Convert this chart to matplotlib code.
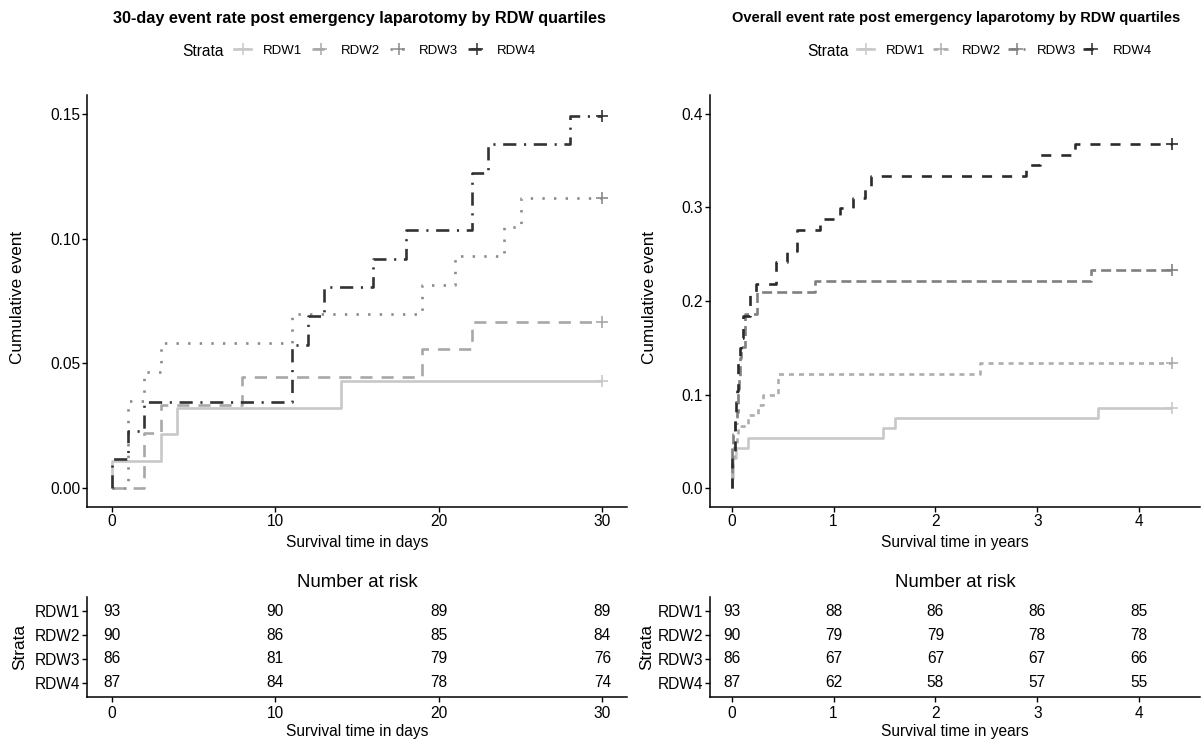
import matplotlib
matplotlib.use("Agg")
import matplotlib.pyplot as plt
from matplotlib import font_manager
from matplotlib.lines import Line2D

# ---------------- data ----------------
strata = ["RDW1", "RDW2", "RDW3", "RDW4"]

# 30-day cumulative event (days)
d_rdw1_t = [0, 0, 3, 4, 14, 30]
d_rdw1_v = [0, 0.0108, 0.0215, 0.0323, 0.0430, 0.0430]
d_rdw2_t = [0, 2, 3, 8, 19, 22, 30]
d_rdw2_v = [0, 0.0222, 0.0333, 0.0444, 0.0556, 0.0667, 0.0667]
d_rdw3_t = [0, 1, 2, 3, 11, 19, 21, 24, 25, 30]
d_rdw3_v = [0, 0.0349, 0.0465, 0.0581, 0.0698, 0.0814, 0.0930, 0.1047, 0.1163, 0.1163]
d_rdw4_t = [0, 0, 1, 2, 11, 12, 13, 16, 18, 22, 23, 28, 30]
d_rdw4_v = [0, 0.0115, 0.0230, 0.0345, 0.0575, 0.0690, 0.0805, 0.0920, 0.1034,
            0.1264, 0.1379, 0.1494, 0.1494]

# overall cumulative event (years)
y_rdw1_t = [0, 0, 0.008, 0.011, 0.038, 0.16, 1.49, 1.60, 3.60, 4.32]
y_rdw1_v = [0, 0.0108, 0.0215, 0.0323, 0.0430, 0.0538, 0.0645, 0.0753, 0.0860, 0.0860]
y_rdw2_t = [0, 0.005, 0.008, 0.022, 0.052, 0.060, 0.16, 0.26, 0.31, 0.45, 2.44, 4.32]
y_rdw2_v = [0, 0.0222, 0.0333, 0.0444, 0.0556, 0.0667, 0.0778, 0.0889, 0.1000,
            0.1222, 0.1333, 0.1333]
y_rdw3_t = [0, 0.003, 0.005, 0.008, 0.030, 0.052, 0.057, 0.066, 0.068, 0.080,
            0.085, 0.090, 0.130, 0.245, 0.82, 3.53, 4.32]
y_rdw3_v = [0, 0.0349, 0.0465, 0.0581, 0.0698, 0.0814, 0.0930, 0.1047, 0.1163, 0.1279,
            0.1395, 0.1512, 0.1860, 0.2093, 0.2209, 0.2326, 0.2326]
y_rdw4_t = [0, 0, 0.003, 0.005, 0.030, 0.033, 0.036, 0.044, 0.049, 0.060, 0.063, 0.077,
            0.090, 0.110, 0.180, 0.235, 0.435, 0.54, 0.64, 0.867, 1.06, 1.19, 1.31, 1.37,
            2.89, 3.03, 3.37, 4.32]
y_rdw4_v = [0, 0.0115, 0.0230, 0.0345, 0.0575, 0.0690, 0.0805, 0.0920, 0.1034, 0.1264,
            0.1379, 0.1494, 0.1609, 0.1839, 0.2069, 0.2184, 0.2414, 0.2529, 0.2759, 0.2874,
            0.2989, 0.3103, 0.3218, 0.3333, 0.3448, 0.3563, 0.3678, 0.3678]

# number at risk
risk_days_x = [0, 10, 20, 30]
risk_days = {"RDW1": [93, 90, 89, 89], "RDW2": [90, 86, 85, 84],
             "RDW3": [86, 81, 79, 76], "RDW4": [87, 84, 78, 74]}
risk_years_x = [0, 1, 2, 3, 4]
risk_years = {"RDW1": [93, 88, 86, 86, 85], "RDW2": [90, 79, 79, 78, 78],
              "RDW3": [86, 67, 67, 67, 66], "RDW4": [87, 62, 58, 57, 55]}

title_left = "30-day event rate post emergency laparotomy by RDW quartiles"
title_right = "Overall event rate post emergency laparotomy by RDW quartiles"

# ---------------- fonts ----------------
names = {f.name for f in font_manager.fontManager.ttflist}
if "Liberation Sans Narrow" in names:
    NF = ["Liberation Sans Narrow", "DejaVu Sans"]
    k = 1.0
else:
    NF = ["Liberation Sans", "DejaVu Sans"]
    k = 0.86
RF = ["Liberation Sans", "DejaVu Sans"]
plt.rcParams["font.family"] = NF

FS = 13 * k
W, H = 1204, 742
fig = plt.figure(figsize=(W / 100, H / 100), dpi=100)

def fx(px):
    return px / W

def fy(py):
    return 1 - py / H

lw = 1.9
left_styles = {
    "RDW1": dict(color="#C8C8C8", ls="-"),
    "RDW2": dict(color="#A8A8A8", ls=(0, (4.6, 3.4))),
    "RDW3": dict(color="#8A8A8A", ls=(0, (0.9, 3.5))),
    "RDW4": dict(color="#333333", ls=(0, (5.0, 2.9, 0.8, 2.9))),
}
right_styles = {
    "RDW1": dict(color="#C8C8C8", ls="-"),
    "RDW2": dict(color="#ADADAD", ls=(0, (1.9, 1.9))),
    "RDW3": dict(color="#808080", ls=(0, (3.8, 1.9))),
    "RDW4": dict(color="#2B2B2B", ls=(0, (3.8, 3.8))),
}

def style_axes(ax):
    for s in ["top", "right"]:
        ax.spines[s].set_visible(False)
    for s in ["left", "bottom"]:
        ax.spines[s].set_linewidth(1.1)
    ax.tick_params(direction="out", length=3.5, width=1.0, labelsize=FS, colors="black", pad=1.5)

def main_panel(rect, series, styles, xlim, ylim, xticks, yticks, yfmt, xlabel):
    ax = fig.add_axes(rect)
    for name, (t, v) in zip(strata, series):
        st = styles[name]
        ax.step(t, v, where="post", color=st["color"], linestyle=st["ls"], lw=lw,
                solid_capstyle="butt", dash_capstyle="butt")
        ax.plot([t[-1]], [v[-1]], marker="+", ms=9, mew=1.2, color=st["color"], ls="none")
    ax.set_xlim(*xlim)
    ax.set_ylim(*ylim)
    ax.set_xticks(xticks)
    ax.set_yticks(yticks)
    ax.set_yticklabels([yfmt.format(y) for y in yticks])
    style_axes(ax)
    ax.set_xlabel(xlabel, fontsize=FS, labelpad=4)
    return ax

def table_panel(rect, xs, risk, xlim, xlabel):
    ax = fig.add_axes(rect)
    for i, name in enumerate(strata):
        for x, n in zip(xs, risk[name]):
            ax.text(x, i + 1, str(n), ha="center", va="center", fontsize=FS)
    ax.set_xlim(*xlim)
    ax.set_ylim(4.6, 0.4)
    ax.set_xticks(xs)
    ax.set_yticks([1, 2, 3, 4])
    ax.set_yticklabels(strata)
    style_axes(ax)
    ax.tick_params(axis="x", pad=3)
    ax.set_xlabel(xlabel, fontsize=FS, labelpad=2)
    ax.set_title("Number at risk", fontsize=FS * 1.2, pad=7)
    return ax

left_series = [(d_rdw1_t, d_rdw1_v), (d_rdw2_t, d_rdw2_v), (d_rdw3_t, d_rdw3_v), (d_rdw4_t, d_rdw4_v)]
right_series = [(y_rdw1_t, y_rdw1_v), (y_rdw2_t, y_rdw2_v), (y_rdw3_t, y_rdw3_v), (y_rdw4_t, y_rdw4_v)]

L = [fx(87), fy(507), fx(627) - fx(87), fy(95) - fy(507)]
R = [fx(710), fy(507), fx(1200) - fx(710), fy(95) - fy(507)]
LT = [fx(87), fy(697), fx(627) - fx(87), fy(597) - fy(697)]
RT = [fx(710), fy(697), fx(1200) - fx(710), fy(597) - fy(697)]

main_panel(L, left_series, left_styles, (-1.5, 31.5), (-0.0076, 0.1577),
           [0, 10, 20, 30], [0, 0.05, 0.10, 0.15], "{:.2f}", "Survival time in days")
main_panel(R, right_series, right_styles, (-0.213, 4.597), (-0.02, 0.42),
           [0, 1, 2, 3, 4], [0, 0.1, 0.2, 0.3, 0.4], "{:.1f}", "Survival time in years")
table_panel(LT, risk_days_x, risk_days, (-1.5, 31.5), "Survival time in days")
table_panel(RT, risk_years_x, risk_years, (-0.213, 4.597), "Survival time in years")

# y labels (rotated)
for xpx, ypx, txt in [(18, 297, "Cumulative event"), (650, 297, "Cumulative event"),
                      (20, 647, "Strata"), (647, 647, "Strata")]:
    fig.text(fx(xpx), fy(ypx), txt, rotation=90, ha="center", va="center",
             fontsize=FS * 1.1, family=RF)

# titles
fig.text(fx(359), fy(18), title_left, ha="center", va="center", fontsize=FS * 1.045, fontweight="bold")
fig.text(fx(956), fy(18), title_right, ha="center", va="center", fontsize=FS * 0.94, fontweight="bold")

# legends
def legend_at(x_strata, x_leg, styles, colsp):
    fig.text(fx(x_strata), fy(51), "Strata", ha="left", va="center", fontsize=FS)
    handles = [Line2D([0], [0], color=styles[n]["color"], linestyle=styles[n]["ls"], lw=lw,
                      marker="+", ms=8, mew=1.1) for n in strata]
    fig.legend(handles, strata, loc="center left", bbox_to_anchor=(fx(x_leg), fy(51)),
               ncol=4, frameon=False, fontsize=FS * 0.85, handlelength=1.3,
               handletextpad=0.9, columnspacing=colsp, borderpad=0, borderaxespad=0)

legend_at(182, 234, left_styles, 0.75)
legend_at(807, 857, right_styles, 0.55)

fig.savefig("out.png", dpi=100)
